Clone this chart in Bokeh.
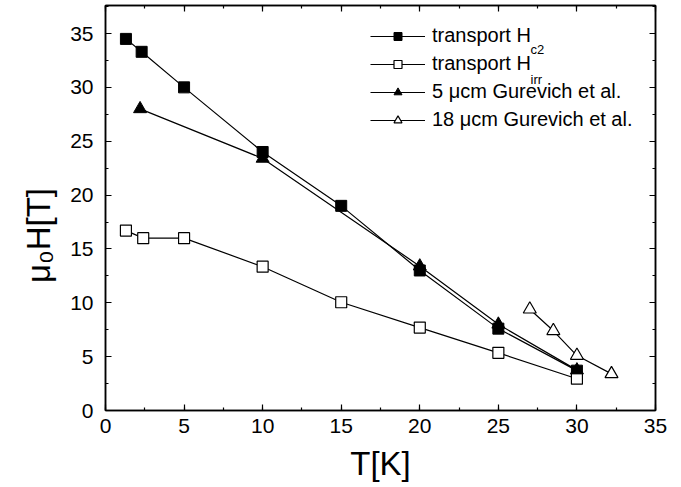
from bokeh.plotting import figure
from bokeh.models import LinearAxis, Range1d, Label, Legend, LegendItem, ColumnDataSource
from bokeh.embed import file_html
from bokeh.resources import INLINE

# ---- data ----
hc2_T = [1.3, 2.3, 5, 10, 15, 20, 25, 30]
hc2_H = [34.5, 33.3, 30.0, 24.0, 19.0, 13.0, 7.6, 3.7]
hirr_T = [1.3, 2.4, 5, 10, 15, 20, 25, 30]
hirr_H = [16.7, 16.0, 16.0, 13.35, 10.05, 7.7, 5.35, 2.95]
g5_T = [2.2, 10, 20, 25, 30]
g5_H = [28.0, 23.4, 13.4, 8.0, 3.75]
g18_T = [27.0, 28.5, 30.0, 32.2]
g18_H = [9.4, 7.4, 5.1, 3.4]

labels = ["transport H", "transport H", "5 \u03bccm Gurevich et al.", "18 \u03bccm Gurevich et al."]
subscripts = ["c2", "irr"]
x_title = "T[K]"
y_title = "\u03bc\u2080H[T]"

FONT = "Liberation Sans"

p = figure(width=681, height=487, output_backend="svg", toolbar_location=None,
           x_range=Range1d(0, 35), y_range=Range1d(0, 37.6),
           x_axis_label=x_title,
           y_axis_label=y_title + "\u00a0" * 6,
           min_border_left=105, min_border_right=26, min_border_top=5, min_border_bottom=77)
p.grid.visible = False
p.outline_line_color = "black"
p.outline_line_width = 1.5
p.background_fill_color = "white"
p.border_fill_color = "white"

def style_axis(ax, show_labels=True):
    ax.axis_line_width = 1.5
    ax.major_tick_in = 6
    ax.major_tick_out = 0
    ax.minor_tick_in = 3
    ax.minor_tick_out = 0
    ax.major_tick_line_width = 1.2
    ax.minor_tick_line_width = 1.2
    ax.major_label_text_font = FONT
    ax.axis_label_text_font = FONT
    ax.axis_label_text_font_style = "normal"
    ax.axis_label_text_color = "black"
    ax.axis_label_text_font_size = "33px"
    ax.ticker.desired_num_ticks = 8
    ax.ticker.num_minor_ticks = 2
    if show_labels:
        ax.major_label_text_font_size = "21px"
        ax.major_label_text_color = "black"
    else:
        ax.major_label_text_font_size = "1px"
        ax.major_label_text_color = None
        ax.major_label_standoff = 0

for ax in p.xaxis:
    style_axis(ax)
    ax.major_label_standoff = 8
    ax.axis_label_standoff = 9
for ax in p.yaxis:
    style_axis(ax)
    ax.major_label_standoff = 12
    ax.axis_label_standoff = 10

top = LinearAxis()
style_axis(top, False)
p.add_layout(top, "above")
right = LinearAxis()
style_axis(right, False)
p.add_layout(right, "right")

s1 = ColumnDataSource(dict(x=hc2_T, y=hc2_H))
s2 = ColumnDataSource(dict(x=hirr_T, y=hirr_H))
s3 = ColumnDataSource(dict(x=g5_T, y=g5_H))
s4 = ColumnDataSource(dict(x=g18_T, y=g18_H))

l1 = p.line("x", "y", source=s1, line_color="black", line_width=1.2)
m1 = p.scatter("x", "y", source=s1, marker="square", size=11, fill_color="black", line_color="black")
l2 = p.line("x", "y", source=s2, line_color="black", line_width=1.2)
m2 = p.scatter("x", "y", source=s2, marker="square", size=11, fill_color="white", line_color="black", line_width=1.2)
l3 = p.line("x", "y", source=s3, line_color="black", line_width=1.2)
m3 = p.scatter("x", "y", source=s3, marker="triangle", size=13, fill_color="black", line_color="black")
l4 = p.line("x", "y", source=s4, line_color="black", line_width=1.2)
m4 = p.scatter("x", "y", source=s4, marker="triangle", size=13, fill_color="white", line_color="black", line_width=1.2)

legend = Legend(items=[
    LegendItem(label=labels[0], renderers=[l1, m1]),
    LegendItem(label=labels[1], renderers=[l2, m2]),
    LegendItem(label=labels[2], renderers=[l3, m3]),
    LegendItem(label=labels[3], renderers=[l4, m4]),
], location=(265, 279))
legend.label_text_font = FONT
legend.label_text_font_size = "20px"
legend.label_text_color = "black"
legend.glyph_width = 55
legend.glyph_height = 20
legend.label_height = 20
legend.spacing = 5
legend.padding = 0
legend.margin = 0
legend.label_standoff = 7
legend.border_line_color = None
legend.background_fill_alpha = 0
p.add_layout(legend, "center")

# subscripts of the legend labels (screen units, relative to the frame)
for sub, sy in zip(subscripts, [361, 331]):
    p.add_layout(Label(x=425, y=sy, x_units="screen", y_units="screen", text=sub,
                       text_font=FONT, text_font_size="13px", text_color="black",
                       text_baseline="alphabetic"))

open("out.html", "w").write(file_html(p, INLINE))
